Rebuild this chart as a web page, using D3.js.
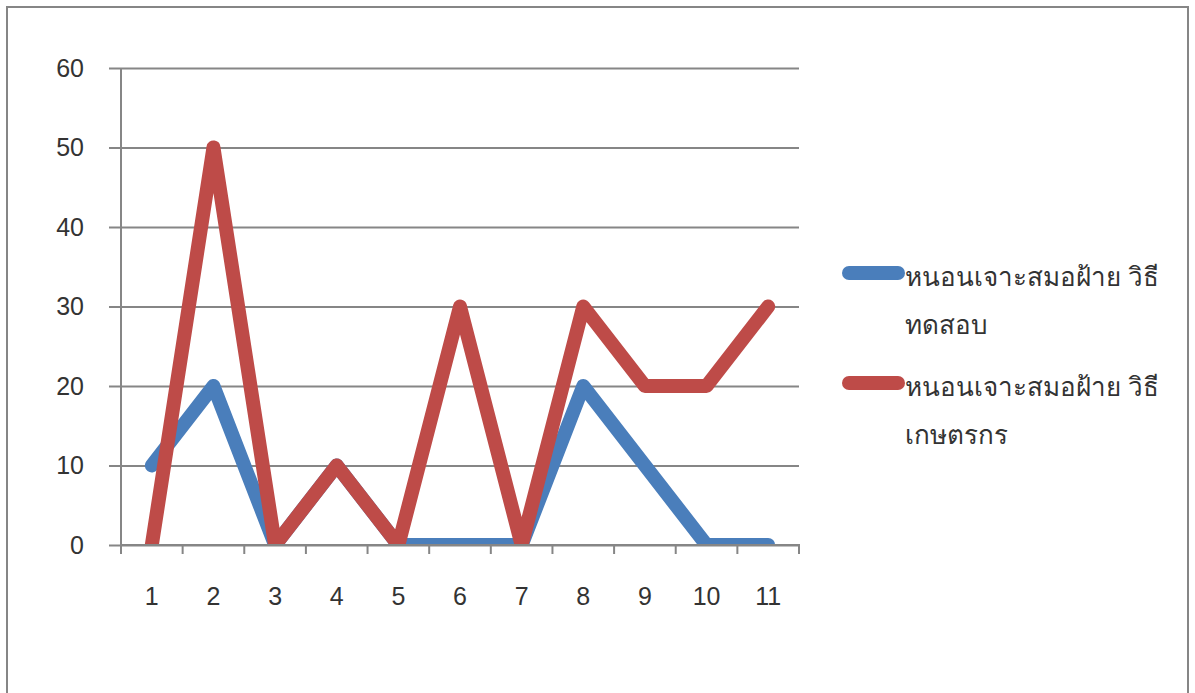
<!DOCTYPE html>
<html>
<head>
<meta charset="utf-8">
<script src="https://cdn.jsdelivr.net/npm/d3@7"></script>
<style>
  html, body { margin: 0; padding: 0; background: #fff; }
  svg { display: block; font-family: "Noto Sans", "DejaVu Sans", sans-serif; }
</style>
</head>
<body>
<svg id="chart" width="1195" height="693"></svg>
<script>
// Categories and series values
const categories = ["1", "2", "3", "4", "5", "6", "7", "8", "9", "10", "11"];
const testMethod = [10, 20, 0, 10, 0, 0, 0, 20, 10, 0, 0];
const farmerMethod = [0, 50, 0, 10, 0, 30, 0, 30, 20, 20, 30];
const yTicks = [0, 10, 20, 30, 40, 50, 60];
const seriesNames = [
  ["หนอนเจาะสมอฝ้าย วิธี", "ทดสอบ"],
  ["หนอนเจาะสมอฝ้าย วิธี", "เกษตรกร"]
];
const colors = ["#4A7EBB", "#BE4B48"];

const svg = d3.select("#chart");
const gridColor = "#868686";
const textColor = "#333";

// outer frame
svg.append("rect")
  .attr("x", 7).attr("y", 7)
  .attr("width", 1181).attr("height", 700)
  .attr("fill", "none").attr("stroke", gridColor).attr("stroke-width", 2);

const plotLeft = 121, plotRight = 799, plotTop = 68, plotBottom = 545;

const x = d3.scaleBand().domain(categories).range([plotLeft, plotRight]).padding(0);
const y = d3.scaleLinear().domain([0, 60]).range([plotBottom, plotTop]);

// horizontal gridlines with outside tick
const yAxis = d3.axisLeft(y).tickValues(yTicks)
  .tickSize(-(plotRight - plotLeft)).tickPadding(37).tickFormat(d3.format("d"));
const gy = svg.append("g").attr("transform", `translate(${plotLeft},0)`).call(yAxis);
gy.select(".domain").remove();
gy.selectAll(".tick line")
  .attr("x1", -12)
  .attr("stroke", gridColor).attr("stroke-width", 2);
gy.selectAll(".tick text")
  .attr("font-size", 25).attr("fill", textColor);

// vertical axis line
svg.append("line")
  .attr("x1", plotLeft).attr("x2", plotLeft)
  .attr("y1", plotTop).attr("y2", plotBottom + 1)
  .attr("stroke", gridColor).attr("stroke-width", 2);

// category axis
const xAxis = d3.axisBottom(x).tickSize(0).tickPadding(42);
const gx = svg.append("g").attr("transform", `translate(0,${plotBottom})`).call(xAxis);
gx.select(".domain").remove();
gx.selectAll(".tick text").attr("font-size", 25).attr("fill", textColor);

// clip the series to the plot area
svg.append("clipPath").attr("id", "plot-clip")
  .append("rect")
  .attr("x", plotLeft).attr("y", plotTop - 20)
  .attr("width", plotRight - plotLeft).attr("height", plotBottom - plotTop + 20);

// series lines
const line = d3.line()
  .x((d, i) => x(categories[i]) + x.bandwidth() / 2)
  .y(d => y(d));

const series = svg.append("g").attr("clip-path", "url(#plot-clip)");
[testMethod, farmerMethod].forEach((vals, k) => {
  series.append("path")
    .datum(vals)
    .attr("d", line)
    .attr("fill", "none")
    .attr("stroke", colors[k])
    .attr("stroke-width", 14)
    .attr("stroke-linejoin", "round")
    .attr("stroke-linecap", "round");
});

// category axis line and tick marks between categories
svg.append("line")
  .attr("x1", plotLeft - 1).attr("x2", plotRight + 1)
  .attr("y1", plotBottom).attr("y2", plotBottom)
  .attr("stroke", gridColor).attr("stroke-width", 2);

const boundaries = categories.map(c => x(c)).concat([plotRight]);
svg.append("g").selectAll("line").data(boundaries).join("line")
  .attr("x1", d => d).attr("x2", d => d)
  .attr("y1", plotBottom).attr("y2", plotBottom + 9)
  .attr("stroke", gridColor).attr("stroke-width", 2);

// legend
const legendY = [273, 383];
seriesNames.forEach((lines, k) => {
  const g = svg.append("g");
  g.append("line")
    .attr("x1", 849).attr("x2", 898)
    .attr("y1", legendY[k]).attr("y2", legendY[k])
    .attr("stroke", colors[k]).attr("stroke-width", 14)
    .attr("stroke-linecap", "round");
  lines.forEach((t, j) => {
    g.append("text")
      .attr("x", 905)
      .attr("y", legendY[k] + 13 + j * 48)
      .attr("font-size", 26)
      .attr("fill", textColor)
      .text(t);
  });
});
</script>
</body>
</html>
